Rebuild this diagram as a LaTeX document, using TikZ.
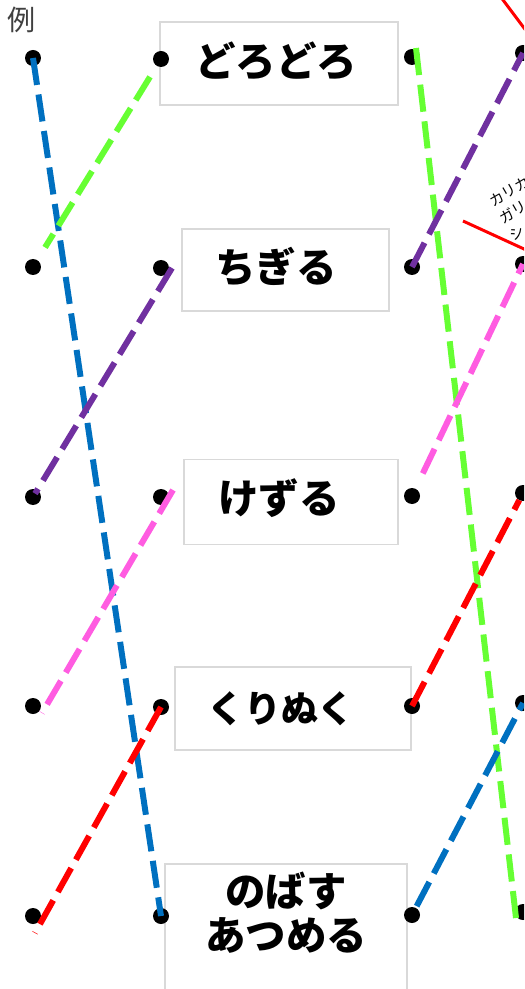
\documentclass[tikz,border=0pt]{standalone}
\usepackage{fontspec}
\setmainfont{Noto Sans CJK JP}
\usepackage{tikz}
\usetikzlibrary{calc}
\definecolor{myblue}{HTML}{0070C0}
\definecolor{mygreen}{HTML}{66FF33}
\definecolor{mypurple}{HTML}{7030A0}
\definecolor{mypink}{HTML}{FF5CE1}
\definecolor{myred}{HTML}{FF0000}
\definecolor{myboxgray}{HTML}{D9D9D9}
\definecolor{mylabelgray}{HTML}{404040}
\tikzset{
  mydot/.style={circle, fill=black, inner sep=0pt, minimum size=0.32cm},
  mybox/.style={draw=myboxgray, line width=1.1pt, fill=white, rectangle, inner sep=0pt},
  myword/.style={inner sep=0pt, align=center, font=\fontsize{23pt}{25pt}\selectfont\bfseries},
  myline/.style={line width=3.4pt, dash pattern=on 15.5pt off 5.5pt},
}

\begin{document}
\begin{tikzpicture}[x=0.02cm, y=-0.02cm]%
\useasboundingbox (0, 0) rectangle (524, 989);%
\clip (0, 0) rectangle (524, 989);%
\node[inner sep=0pt, text=mylabelgray, font=\fontsize{16pt}{16pt}\selectfont] (rei) at (22, 20) {例};%
% boxes
\node[mybox, minimum width=4.76cm, minimum height=1.66cm] (w1) at (279, 63.5) {};%
\node[mybox, minimum width=4.14cm, minimum height=1.64cm] (w2) at (285.5, 270) {};%
\node[mybox, minimum width=4.28cm, minimum height=1.70cm] (w3) at (291, 502) {};%
\node[mybox, minimum width=4.72cm, minimum height=1.66cm] (w4) at (293, 708.5) {};%
\node[mybox, minimum width=4.84cm, minimum height=2.80cm] (w5) at (286, 934) {};%
\node[myword] (t1) at (276, 61) {どろどろ};%
\node[myword] (t2) at (276, 267) {ちぎる};%
\node[myword] (t3) at (279, 498) {けずる};%
\node[myword, font=\fontsize{21pt}{23pt}\selectfont\bfseries] (t4) at (281, 709) {くりぬく};%
\node[myword] (t5) at (286, 913) {のばす\\あつめる};%
% dots
\node[mydot] (l1) at (33, 58) {};%
\node[mydot] (l2) at (33, 267) {};%
\node[mydot] (l3) at (33, 497) {};%
\node[mydot] (l4) at (33, 706) {};%
\node[mydot] (l5) at (33, 916) {};%
\node[mydot] (m1) at (161, 59) {};%
\node[mydot] (m2) at (161, 268) {};%
\node[mydot] (m3) at (161, 497) {};%
\node[mydot] (m4) at (161, 707) {};%
\node[mydot] (m5) at (161, 916) {};%
\node[mydot] (n1) at (412, 57) {};%
\node[mydot] (n2) at (412, 267) {};%
\node[mydot] (n3) at (412, 496) {};%
\node[mydot] (n4) at (412, 706) {};%
\node[mydot] (n5) at (412, 915) {};%
\node[mydot] (r1) at (523, 53) {};%
\node[mydot] (r2) at (523, 264) {};%
\node[mydot] (r3) at (523, 493) {};%
\node[mydot] (r4) at (523, 703) {};%
\node[mydot] (r5) at (523, 912) {};%
% example
\coordinate (ex1a) at (488, -20);%
\coordinate (ex1b) at (545, 56);%
\coordinate (ex2a) at (463, 221);%
\coordinate (ex2b) at (585, 277);%
\draw[myred, line width=1.7pt] (ex1a) -- (ex1b);%
\draw[myred, line width=1.7pt] (ex2a) -- (ex2b);%
\node[anchor=north west, rotate=30, inner sep=0pt, align=left, font=\fontsize{8.3pt}{11.3pt}\selectfont] (ex) at (487, 197) {カリカリ\\ガリガリ\\シ};%
% answers
\draw[myline, myblue] (l1.center) -- (m5.center);%
\draw[myline, mygreen, shorten <=0.42cm, shorten >=0.46cm] (m1.center) -- (l2.center);%
\draw[myline, mypurple, shorten >=0.08cm] ($(m2)+(11, 0)$) -- (l3.center);%
\draw[myline, mypink] ($(m3)+(12, -7)$) -- ($(l4)+(9, 7)$);%
\draw[myline, myred] (m4.center) -- ($(l5)+(2, 17)$);%
\draw[myline, mygreen] ($(n1)+(4, -9)$) -- ($(r5)+(-7, 6)$);%
\draw[myline, mypurple] (n2.center) -- (r1.center);%
\draw[myline, mypink, shorten <=0.5cm] (n3.center) -- (r2.center);%
\draw[myline, myred, shorten >=0.16cm] (n4.center) -- (r3.center);%
\draw[myline, myblue, shorten <=0.2cm] (n5.center) -- (r4.center);%
\end{tikzpicture}
\end{document}
